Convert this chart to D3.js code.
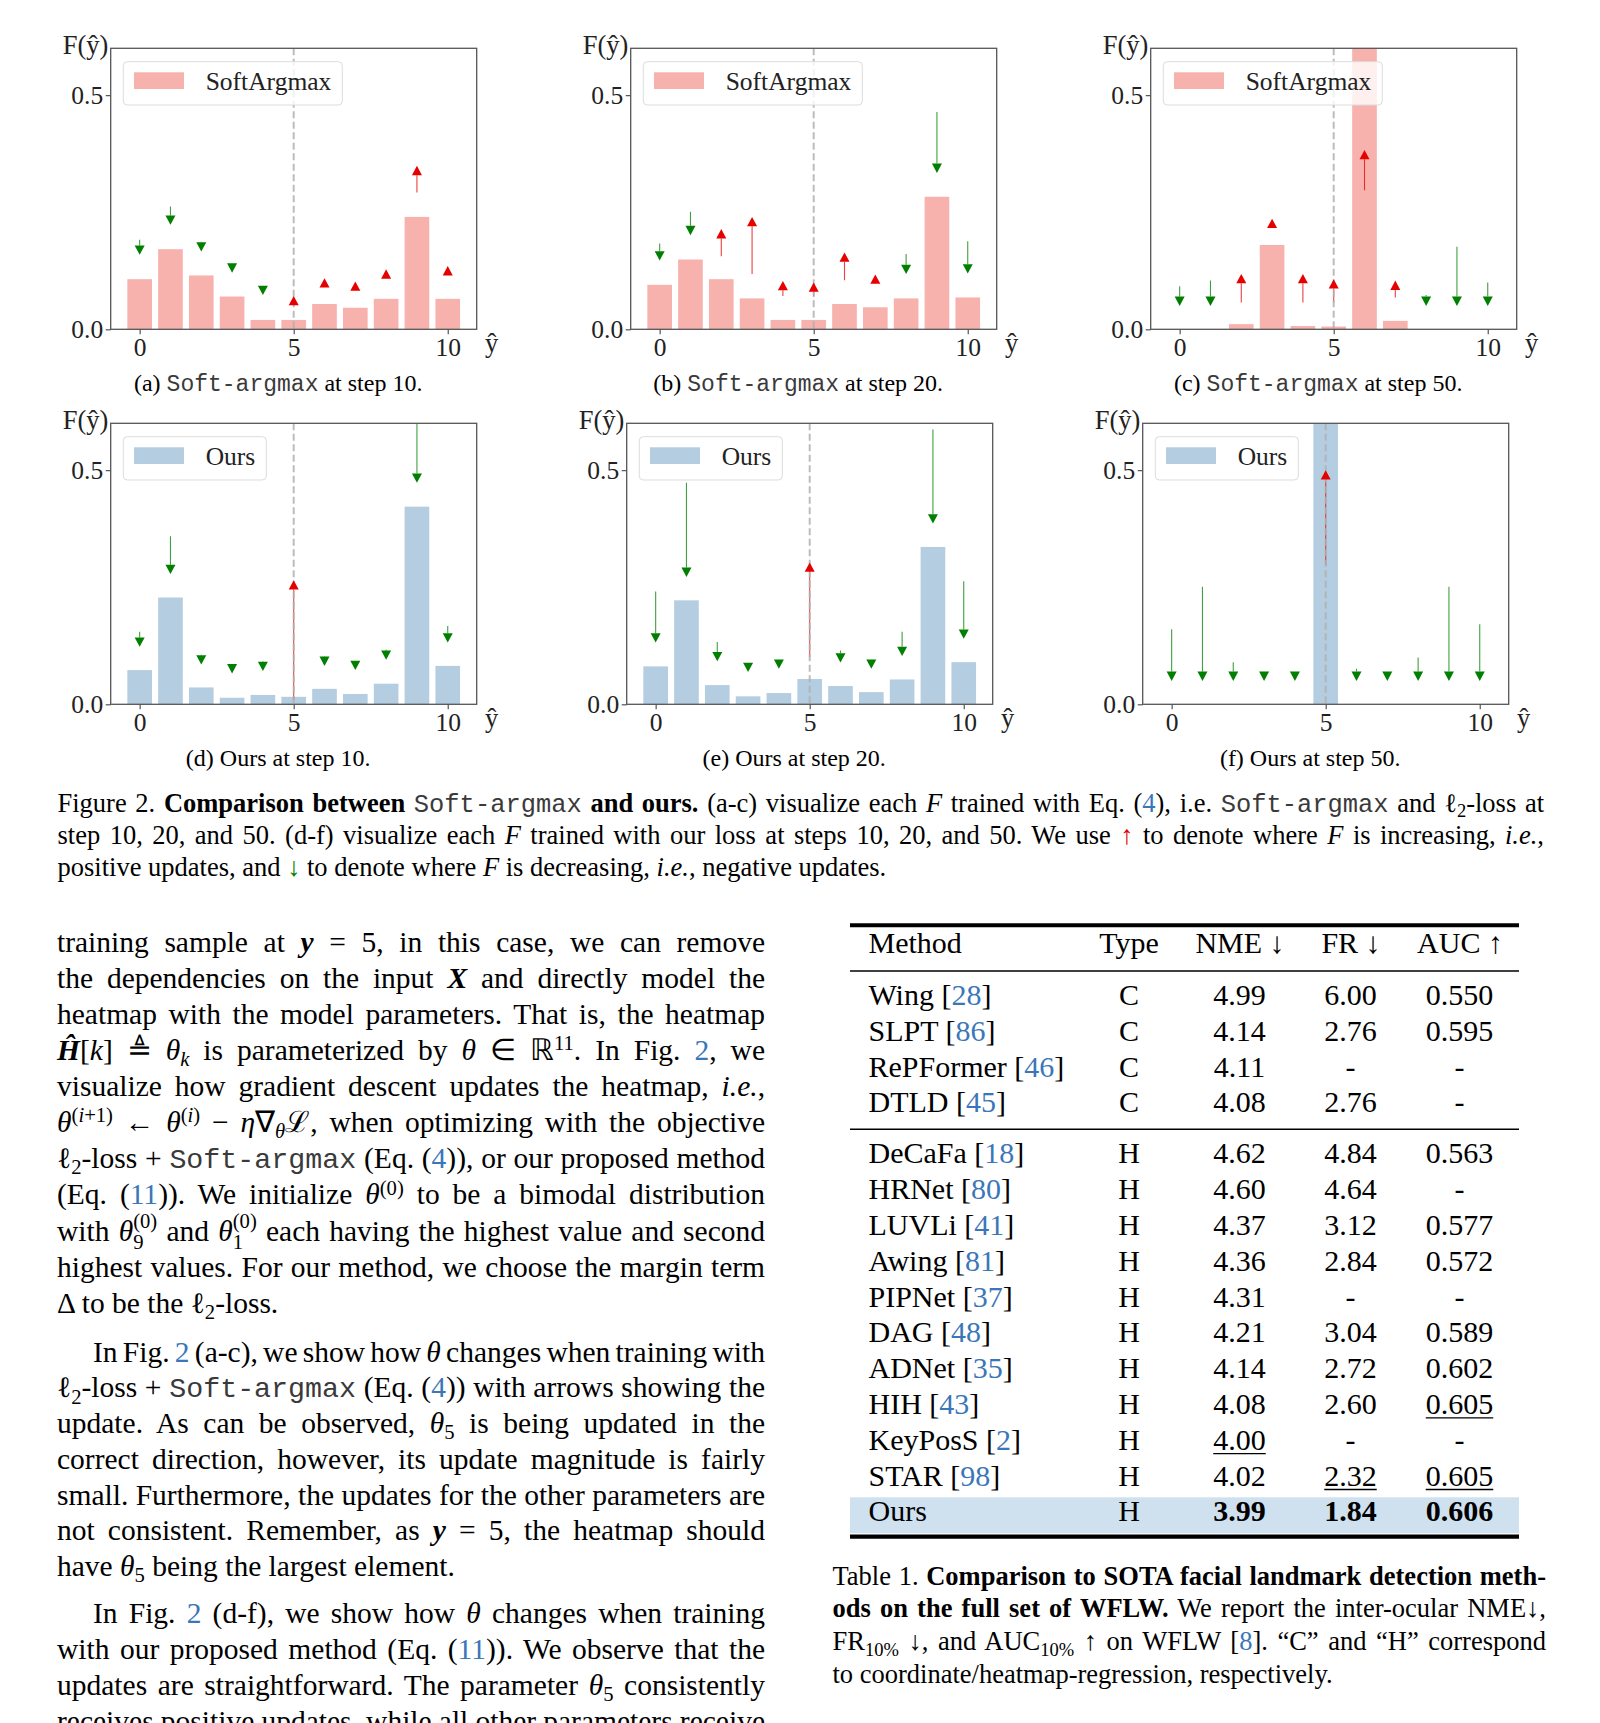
<!DOCTYPE html>
<html><head><meta charset="utf-8">
<script src="https://cdn.jsdelivr.net/npm/d3@7"></script>
<style>
html,body{margin:0;padding:0;background:#fff;}
body{width:1600px;height:1723px;overflow:hidden;position:relative;font-family:"Liberation Serif","Times New Roman",serif;color:#000;}
#fig{position:absolute;left:0;top:0;}
.ln{position:absolute;white-space:nowrap;line-height:1;}
.tt{font-family:"Liberation Mono","Courier New",monospace;font-weight:normal;color:#3a3a3a;font-size:96%;}
.c{color:#3b77b8;}
sup{font-size:70%;position:relative;top:-0.48em;vertical-align:baseline;line-height:0;}
sub{font-size:70%;position:relative;top:0.3em;vertical-align:baseline;line-height:0;}
sup.st{top:-0.6em;}
sub.st{top:0.42em;}
.bl{display:inline-block;width:0;height:0;vertical-align:baseline;}
</style></head>
<body>
<svg id="fig" width="1600" height="1723"></svg>
<script>
// ---------------- chart data ----------------
const yhat = [0, 1, 2, 3, 4, 5, 6, 7, 8, 9, 10];
const xTickValues = [0, 5, 10];
const yTickValues = [0.0, 0.5];
const targetY = 5;

const softStep10     = [0.107, 0.171, 0.115, 0.070, 0.020, 0.020, 0.054, 0.046, 0.065, 0.240, 0.065];
const softStep10From = [0.191, 0.262, 0.187, 0.139, 0.091, 0.050, 0.090, 0.084, 0.108, 0.292, 0.116];
const softStep10To   = [0.159, 0.223, 0.166, 0.121, 0.073, 0.071, 0.109, 0.102, 0.128, 0.349, 0.135];

const softStep20     = [0.095, 0.149, 0.107, 0.066, 0.020, 0.020, 0.054, 0.047, 0.066, 0.283, 0.068];
const softStep20From = [0.183, 0.251, 0.156, 0.118, 0.071, 0.070, 0.105, 0.098, 0.161, 0.464, 0.188];
const softStep20To   = [0.147, 0.201, 0.214, 0.240, 0.103, 0.100, 0.164, 0.117, 0.118, 0.334, 0.119];

const softStep50     = [0.000, 0.000, 0.011, 0.180, 0.007, 0.006, 0.750, 0.018, 0.000, 0.000, 0.000];
const softStep50From = [0.092, 0.104, 0.057, 0.218, 0.057, 0.057, 0.297, 0.068, 0.073, 0.176, 0.100];
const softStep50To   = [0.050, 0.050, 0.118, 0.236, 0.118, 0.107, 0.383, 0.104, 0.050, 0.050, 0.050];

const oursStep10     = [0.073, 0.228, 0.036, 0.014, 0.020, 0.016, 0.033, 0.022, 0.044, 0.422, 0.082];
const oursStep10From = [0.155, 0.359, 0.106, 0.085, 0.092, 0.010, 0.103, 0.093, 0.117, 0.600, 0.167];
const oursStep10To   = [0.123, 0.278, 0.085, 0.066, 0.071, 0.265, 0.082, 0.073, 0.095, 0.473, 0.132];

const oursStep20     = [0.081, 0.222, 0.041, 0.017, 0.024, 0.054, 0.039, 0.026, 0.053, 0.336, 0.090];
const oursStep20From = [0.241, 0.473, 0.133, 0.088, 0.095, 0.101, 0.115, 0.095, 0.155, 0.587, 0.263];
const oursStep20To   = [0.132, 0.272, 0.092, 0.069, 0.076, 0.303, 0.089, 0.076, 0.103, 0.386, 0.140];

const oursStep50     = [0.000, 0.000, 0.000, 0.000, 0.000, 0.950, 0.000, 0.000, 0.000, 0.000, 0.000];
const oursStep50From = [0.160, 0.251, 0.090, 0.069, 0.069, 0.297, 0.076, 0.069, 0.100, 0.251, 0.171];
const oursStep50To   = [0.050, 0.050, 0.050, 0.050, 0.050, 0.500, 0.050, 0.050, 0.050, 0.050, 0.050];

const panelLetters = ["(a)", "(b)", "(c)", "(d)", "(e)", "(f)"];
const panelSteps = [10, 20, 50, 10, 20, 50];
const legendNames = ["SoftArgmax", "Ours"];

// ---------------- table data ----------------
const methods = ["Wing","SLPT","RePFormer","DTLD","DeCaFa","HRNet","LUVLi","Awing","PIPNet","DAG","ADNet","HIH","KeyPosS","STAR","Ours"];
const refs    = ["28","86","46","45","18","80","41","81","37","48","35","43","2","98",""];
const types   = ["C","C","C","C","H","H","H","H","H","H","H","H","H","H","H"];
const nmeVals = ["4.99","4.14","4.11","4.08","4.62","4.60","4.37","4.36","4.31","4.21","4.14","4.08","4.00","4.02","3.99"];
const frVals  = ["6.00","2.76","-","2.76","4.84","4.64","3.12","2.84","-","3.04","2.72","2.60","-","2.32","1.84"];
const aucVals = ["0.550","0.595","-","-","0.563","-","0.577","0.572","-","0.589","0.602","0.605","-","0.605","0.606"];
const tableHeaders = ["Method","Type","NME \u2193","FR \u2193","AUC \u2191"];
const underlined = [[12,"nme"],[13,"fr"],[11,"auc"],[13,"auc"]];

// ---------------- chart drawing ----------------
const svg = d3.select("#fig");
const PW = 366, PH = 281;
const PINK = "#f7b2ae", BLUE = "#b4cde1", RED = "#e60000", GREEN = "#007f00";
const HEAD_L = 9.3, HEAD_HW = 5;

const panels = [
  {bars: softStep10, from: softStep10From, to: softStep10To, kind: 0, left: 110.7, top: 48.3},
  {bars: softStep20, from: softStep20From, to: softStep20To, kind: 0, left: 630.7, top: 48.3},
  {bars: softStep50, from: softStep50From, to: softStep50To, kind: 0, left: 1150.7, top: 48.3},
  {bars: oursStep10, from: oursStep10From, to: oursStep10To, kind: 1, left: 110.7, top: 423.3},
  {bars: oursStep20, from: oursStep20From, to: oursStep20To, kind: 1, left: 626.7, top: 423.3},
  {bars: oursStep50, from: oursStep50From, to: oursStep50To, kind: 1, left: 1142.7, top: 423.3}
];

panels.forEach((p, pi) => {
  const g = svg.append("g").attr("transform", `translate(${p.left},${p.top})`)
    .style("font-family", '"Liberation Serif", serif');
  const x = d3.scaleLinear().domain([-0.94, 10.94]).range([0, PW]);
  const y = d3.scaleLinear().domain([0, 0.6]).range([PH, 0]);
  const fill = p.kind === 0 ? PINK : BLUE;

  g.append("clipPath").attr("id", "clip" + pi).append("rect").attr("width", PW).attr("height", PH);
  const plot = g.append("g").attr("clip-path", `url(#clip${pi})`);

  plot.selectAll("rect.bar").data(p.bars).join("rect").attr("class", "bar")
    .attr("x", (d, i) => x(yhat[i] - 0.4))
    .attr("width", x(0.8) - x(0))
    .attr("y", d => y(d))
    .attr("height", d => y(0) - y(d))
    .attr("fill", fill);

  const arrows = yhat.map((k, i) => ({k, from: p.from[i], to: p.to[i], up: p.to[i] > p.from[i]}));
  arrows.forEach(a => {
    const tipY = y(a.to), baseY = tipY + (a.up ? HEAD_L : -HEAD_L), tailY = y(a.from);
    if ((a.up && tailY > baseY + 0.5) || (!a.up && tailY < baseY - 0.5)) {
      plot.append("line").attr("x1", x(a.k)).attr("x2", x(a.k))
        .attr("y1", tailY).attr("y2", baseY)
        .attr("stroke", a.up ? RED : GREEN).attr("stroke-width", 1.1).attr("stroke-opacity", 0.75);
    }
  });
  plot.append("line").attr("x1", x(targetY)).attr("x2", x(targetY)).attr("y1", 0).attr("y2", PH)
    .attr("stroke", "#b0b0b0").attr("stroke-width", 2).attr("stroke-dasharray", "7,3.5").attr("stroke-opacity", 0.85);
  arrows.forEach(a => {
    const tipY = y(a.to), baseY = tipY + (a.up ? HEAD_L : -HEAD_L), cx = x(a.k);
    plot.append("path").attr("d", `M${cx},${tipY}L${cx - HEAD_HW},${baseY}L${cx + HEAD_HW},${baseY}Z`)
      .attr("fill", a.up ? RED : GREEN);
  });

  g.append("rect").attr("width", PW).attr("height", PH).attr("fill", "none")
    .attr("stroke", "#555").attr("stroke-width", 1.3);

  const yAxis = d3.axisLeft(y).tickValues(yTickValues).tickFormat(d3.format(".1f")).tickSize(5).tickPadding(2.5);
  const xAxis = d3.axisBottom(x).tickValues(xTickValues).tickFormat(d3.format("d")).tickSize(5).tickPadding(3.6);
  const ya = g.append("g").call(yAxis);
  const xa = g.append("g").attr("transform", `translate(0,${PH})`).call(xAxis);
  [ya, xa].forEach(a => {
    a.select(".domain").remove();
    a.selectAll("line").attr("stroke", "#555").attr("stroke-width", 1.2);
    a.selectAll("text").attr("fill", "#222").style("font-size", "25.5px").style("font-family", '"Liberation Serif", serif');
  });

  const leg = g.append("g").attr("transform", "translate(12.6,13.4)");
  const lbox = leg.append("rect").attr("height", 43.3).attr("rx", 4)
    .attr("fill", "#fff").attr("fill-opacity", 0.8).attr("stroke", "#dcdcdc").attr("stroke-width", 1);
  leg.append("rect").attr("x", 10.7).attr("y", 10.6).attr("width", 50).attr("height", 16.7).attr("fill", fill);
  const lt = leg.append("text").attr("x", 82.4).attr("y", 28).attr("fill", "#222")
    .style("font-size", "25.5px").text(legendNames[p.kind]);
  lbox.attr("width", 82.4 + lt.node().getComputedTextLength() + 11);

  g.append("text").attr("x", -2.4).attr("y", 5.5).attr("text-anchor", "end").attr("fill", "#222")
    .style("font-size", "26.5px").text("F(\u0177)");
  g.append("text").attr("x", PW + 15).attr("y", PH + 22.4).attr("text-anchor", "middle").attr("fill", "#222")
    .style("font-size", "26.5px").text("\u0177");

  const cap = g.append("text").attr("x", 167.5).attr("y", PH + 62).attr("text-anchor", "middle")
    .style("font-size", "24px").style("white-space", "pre");
  if (p.kind === 0) {
    cap.append("tspan").text(panelLetters[pi] + " ");
    cap.append("tspan").style("font-family", '"Liberation Mono", monospace').attr("fill", "#3a3a3a")
      .style("font-size", "23px").text("Soft-argmax");
    cap.append("tspan").text(" at step " + panelSteps[pi] + ".");
  } else {
    cap.append("tspan").text(panelLetters[pi] + " Ours at step " + panelSteps[pi] + ".");
  }
});

// ---------------- table ----------------
const tg = svg.append("g").style("font-family", '"Liberation Serif", serif').style("font-size", "30px");
const TL = 850, TR = 1519;
const colX = {type: 1129, nme: 1239.5, fr: 1350.5, auc: 1459.5};
const rowBase = methods.map((m, i) => i < 4 ? 1005 + i * 35.75 : 1163.3 + (i - 4) * 35.8);
tg.append("rect").attr("x", TL).attr("width", TR - TL).attr("y", 1497.3).attr("height", 36).attr("fill", "#cfe0ee");
[[925.3, 4], [971, 1.6], [1129.3, 1.6], [1536.6, 4.4]].forEach(([yy, w]) => {
  tg.append("line").attr("x1", TL).attr("x2", TR).attr("y1", yy).attr("y2", yy).attr("stroke", "#000").attr("stroke-width", w);
});
const hdrX = [868.5, 1129, 1240, 1351, 1460];
tableHeaders.forEach((h, i) => {
  tg.append("text").attr("x", hdrX[i]).attr("y", 953.3).attr("text-anchor", i === 0 ? "start" : "middle").text(h);
});
methods.forEach((m, i) => {
  const t = tg.append("text").attr("x", 868.5).attr("y", rowBase[i]).style("white-space", "pre");
  t.append("tspan").text(m);
  if (refs[i]) {
    t.append("tspan").text(" [");
    t.append("tspan").attr("fill", "#3b77b8").text(refs[i]);
    t.append("tspan").text("]");
  }
  tg.append("text").attr("x", colX.type).attr("y", rowBase[i]).attr("text-anchor", "middle").text(types[i]);
  const cols = {nme: nmeVals, fr: frVals, auc: aucVals};
  Object.keys(cols).forEach(k => {
    const tt = tg.append("text").attr("x", colX[k]).attr("y", rowBase[i]).attr("text-anchor", "middle").text(cols[k][i]);
    if (m === "Ours") tt.attr("font-weight", "bold");
    if (underlined.some(u => u[0] === i && u[1] === k)) {
      const bb = tt.node().getBBox();
      tg.append("line").attr("x1", bb.x).attr("x2", bb.x + bb.width).attr("y1", rowBase[i] + 4).attr("y2", rowBase[i] + 4)
        .attr("stroke", "#000").attr("stroke-width", 1.3);
    }
  });
});

// ---------------- text blocks ----------------
const body = d3.select("body");
function addLines(lines, opts) {
  lines.forEach((html, i) => {
    const last = opts.lastIdx.includes(i);
    const left = opts.left + (opts.indentIdx && opts.indentIdx.includes(i) ? opts.indent : 0);
    const width = opts.right - left;
    const base = opts.base[i];
    const div = body.append("div").attr("class", "ln")
      .style("left", left + "px").style("top", (base - 0.84 * opts.fs) + "px")
      .style("font-size", opts.fs + "px");
    const span = div.append("span").html('<span class="bl"></span>' + html);
    const nat = span.node().getBoundingClientRect().width;
    const spaces = (span.node().textContent.match(/ /g) || []).length;
    if (!last && spaces > 0) div.style("word-spacing", ((width - nat) / spaces) + "px");
    else if (nat > width && spaces > 0) div.style("word-spacing", ((width - nat) / spaces) + "px");
    const mk = div.select(".bl").node().getBoundingClientRect().top;
    const top = parseFloat(div.style("top"));
    div.style("top", (top + (base - mk)) + "px");
  });
}
const TT = s => `<span class="tt">${s}</span>`;
const C = s => `<span class="c">${s}</span>`;
const th = '<i>\u03B8</i>';

addLines([
  `Figure 2. <b>Comparison between ${TT("Soft-argmax")} and ours.</b> (a-c) visualize each <i>F</i> trained with Eq. (${C("4")}), i.e. ${TT("Soft-argmax")} and \u2113<sub>2</sub>-loss at`,
  `step 10, 20, and 50. (d-f) visualize each <i>F</i> trained with our loss at steps 10, 20, and 50. We use <span style="color:#e00000">\u2191</span> to denote where <i>F</i> is increasing, <i>i.e.</i>,`,
  `positive updates, and <span style="color:#008000">\u2193</span> to denote where <i>F</i> is decreasing, <i>i.e.</i>, negative updates.`
], {left: 57.5, right: 1544, fs: 26.5, base: [811.5, 843.5, 875.5], lastIdx: [2]});

const p1Base = [0, 1, 2, 3, 4, 5, 6, 7, 8, 9, 10].map(i => 951.7 + i * 36.1);
addLines([
  `training sample at <b><i>y</i></b> = 5, in this case, we can remove`,
  `the dependencies on the input <b><i>X</i></b> and directly model the`,
  `heatmap with the model parameters. That is, the heatmap`,
  `<b><i>\u0124</i></b>[<i>k</i>] \u225C ${th}<sub><i>k</i></sub> is parameterized by ${th} \u2208 \u211D<sup>11</sup>. In Fig. ${C("2")}, we`,
  `visualize how gradient descent updates the heatmap, <i>i.e.</i>,`,
  `${th}<sup>(<i>i</i>+1)</sup> \u2190 ${th}<sup>(<i>i</i>)</sup> \u2212 <i>\u03B7</i>\u2207<sub><i>\u03B8</i></sub>\u2112, when optimizing with the objective`,
  `\u2113<sub>2</sub>-loss + ${TT("Soft-argmax")} (Eq. (${C("4")})), or our proposed method`,
  `(Eq. (${C("11")})). We initialize ${th}<sup>(0)</sup> to be a bimodal distribution`,
  `with ${th}<sub class="st">9</sub><sup class="st" style="margin-left:-0.5em">(0)</sup> and ${th}<sub class="st">1</sub><sup class="st" style="margin-left:-0.5em">(0)</sup> each having the highest value and second`,
  `highest values. For our method, we choose the margin term`,
  `\u0394 to be the \u2113<sub>2</sub>-loss.`
], {left: 57, right: 765, fs: 29.5, base: p1Base, lastIdx: [10]});

const p2Base = [0, 1, 2, 3, 4, 5, 6].map(i => 1361.7 + i * 35.75);
addLines([
  `In Fig. ${C("2")} (a-c), we show how ${th} changes when training with`,
  `\u2113<sub>2</sub>-loss + ${TT("Soft-argmax")} (Eq. (${C("4")})) with arrows showing the`,
  `update. As can be observed, ${th}<sub>5</sub> is being updated in the`,
  `correct direction, however, its update magnitude is fairly`,
  `small. Furthermore, the updates for the other parameters are`,
  `not consistent. Remember, as <b><i>y</i></b> = 5, the heatmap should`,
  `have ${th}<sub>5</sub> being the largest element.`
], {left: 57, right: 765, fs: 29.5, base: p2Base, lastIdx: [6], indentIdx: [0], indent: 36});

const p3Base = [0, 1, 2, 3].map(i => 1623.4 + i * 35.8);
addLines([
  `In Fig. ${C("2")} (d-f), we show how ${th} changes when training`,
  `with our proposed method (Eq. (${C("11")})). We observe that the`,
  `updates are straightforward. The parameter ${th}<sub>5</sub> consistently`,
  `receives positive updates, while all other parameters receive`
], {left: 57, right: 765, fs: 29.5, base: p3Base, lastIdx: [], indentIdx: [0], indent: 36});

addLines([
  `Table 1. <b>Comparison to SOTA facial landmark detection meth-</b>`,
  `<b>ods on the full set of WFLW.</b> We report the inter-ocular NME\u2193,`,
  `FR<sub>10%</sub> \u2193, and AUC<sub>10%</sub> \u2191 on WFLW [${C("8")}]. \u201CC\u201D and \u201CH\u201D correspond`,
  `to coordinate/heatmap-regression, respectively.`
], {left: 832.5, right: 1546, fs: 26.5, base: [1584.5, 1617, 1650, 1682.5], lastIdx: [3]});
</script>
</body></html>
